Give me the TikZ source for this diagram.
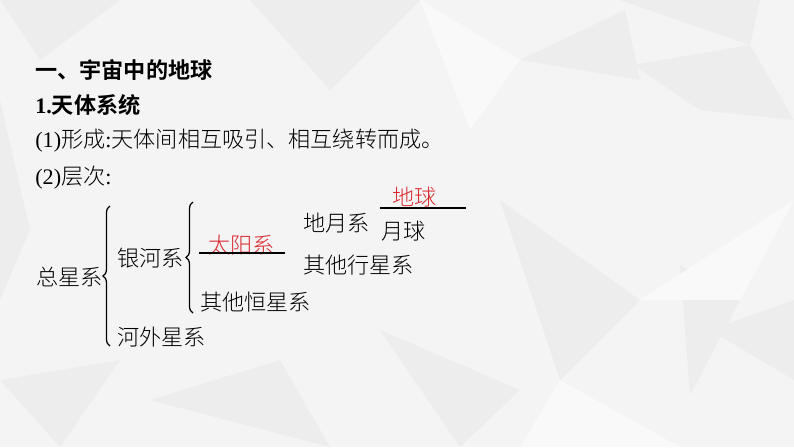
\documentclass[tikz,border=0pt]{standalone}
\usepackage{fontspec}
\setmainfont{Liberation Serif}
\newfontfamily\cjk{Noto Sans CJK SC}[UprightFont=* Light, BoldFont=* Bold]
\usetikzlibrary{decorations.pathreplacing}

\definecolor{bggray}{HTML}{F4F4F4}
\definecolor{facet}{HTML}{EDEDED}
\definecolor{facetlight}{HTML}{F9F9F9}
\definecolor{answerred}{HTML}{D82A2F}

\tikzset{
    txt/.style={anchor=west, inner sep=0pt, font=\fontsize{12.6}{15}\selectfont\cjk},
    ans/.style={txt, text=answerred},
    bracket/.style={decorate, decoration={brace, amplitude=4pt}, line width=.7pt},
    blank/.style={line width=.9pt}
}

\begin{document}
\begin{tikzpicture}[x=0.02cm, y=-0.02cm]
    \useasboundingbox (0,0) rectangle (794,447);

    % background facets
    \begin{scope}
        \fill[bggray] (0,0) rectangle (794,447);
        \fill[facet] (0,0) -- (120,0) -- (40,60) -- cycle;
        \fill[facet] (250,0) -- (420,0) -- (330,90) -- cycle;
        \fill[facet] (620,0) -- (760,0) -- (750,45) -- cycle;
        \fill[facet] (520,60) -- (625,10) -- (640,80) -- cycle;
        \fill[facet] (633,65) -- (750,45) -- (794,120) -- (700,110) -- cycle;
        \fill[facet] (500,200) -- (640,300) -- (560,380) -- cycle;
        \fill[facet] (680,265) -- (740,300) -- (690,395) -- cycle;
        \fill[facet] (710,330) -- (794,380) -- (794,300) -- cycle;
        \fill[facet] (0,380) -- (120,360) -- (60,447) -- cycle;
        \fill[facet] (150,400) -- (280,360) -- (330,447) -- cycle;
        \fill[facet] (380,330) -- (460,447) -- (520,390) -- cycle;
        \fill[facet] (0,100) -- (30,230) -- (0,300) -- cycle;
        \fill[facetlight] (420,0) -- (520,60) -- (470,130) -- cycle;
        \fill[facetlight] (560,380) -- (680,447) -- (520,447) -- cycle;
        \fill[facetlight] (640,300) -- (794,200) -- (740,300) -- cycle;
    \end{scope}

    % headings
    \node[txt, font=\fontsize{12.6}{15}\selectfont\cjk\bfseries] (title) at (35,70) {一、宇宙中的地球};
    \node[txt, font=\fontsize{12.6}{15}\selectfont\cjk\bfseries] (sub) at (35,105) {{\rmfamily 1.}天体系统};
    \node[txt] (form) at (35,141) {{\rmfamily (1)}形成{\rmfamily :}天体间相互吸引、相互绕转而成。};
    \node[txt] (level) at (35,178) {{\rmfamily (2)}层次{\rmfamily :}};

    % hierarchy
    \node[txt] (all) at (36,277) {总星系};
    \node[txt] (milky) at (117,258) {银河系};
    \node[txt] (extra) at (117,337) {河外星系};
    \node[ans] (sun) at (208,245) {太阳系};
    \node[txt] (stars) at (200,302) {其他恒星系};
    \node[txt] (em) at (303,223) {地月系};
    \node[txt] (planets) at (303,265) {其他行星系};
    \node[ans] (earth) at (392,197) {地球};
    \node[txt] (moon) at (381,231) {月球};

    \coordinate (bigtop) at (110,206);
    \coordinate (bigbot) at (110,346);
    \coordinate (midtop) at (193,202);
    \coordinate (midbot) at (193,313);
    \draw[bracket] (bigbot) -- (bigtop);
    \draw[bracket] (midbot) -- (midtop);

    \coordinate (sunL) at (199,253);
    \coordinate (sunR) at (285,253);
    \coordinate (earthL) at (380,208);
    \coordinate (earthR) at (466,208);
    \draw[blank] (sunL) -- (sunR);
    \draw[blank] (earthL) -- (earthR);
\end{tikzpicture}
\end{document}
